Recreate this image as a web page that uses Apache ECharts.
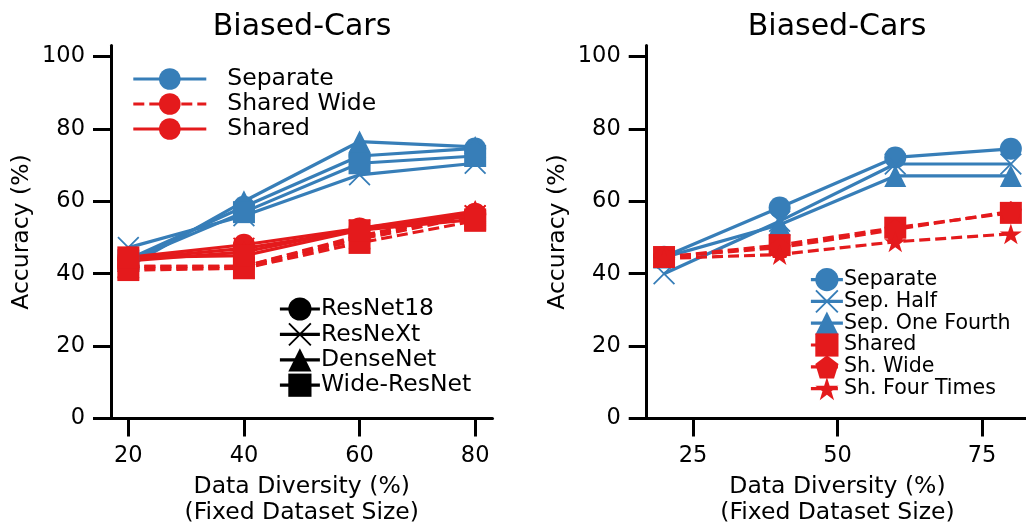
<!DOCTYPE html>
<html><head><meta charset="utf-8">
<script src="https://cdn.jsdelivr.net/npm/echarts@6/dist/echarts.min.js"></script>
<style>html,body{margin:0;padding:0;background:#fff}#c{width:1026px;height:523px}</style>
</head><body><div id="c"></div>
<script>
// ---------- data ----------
const xValues = [20, 40, 60, 80];
const leftXTicks = [20, 40, 60, 80];
const rightXTicks = [25, 50, 75];
const yTicks = [0, 20, 40, 60, 80, 100];

// Left panel: Separate (blue, solid)
const sepResNet18   = [44.0, 58.5, 72.5, 74.6];
const sepResNeXt    = [47.2, 56.0, 67.3, 70.5];
const sepDenseNet   = [42.0, 60.0, 76.5, 75.0];
const sepWideResNet = [43.5, 57.0, 70.5, 72.5];
// Left panel: Shared Wide (red, dashed)
const swResNet18    = [42.0, 42.0, 50.5, 56.5];
const swResNeXt     = [41.5, 41.5, 49.5, 56.0];
const swDenseNet    = [42.0, 42.0, 50.0, 57.0];
const swWideResNet  = [41.0, 41.5, 48.5, 54.6];
// Left panel: Shared (red, solid)
const shResNet18    = [44.5, 48.0, 52.5, 56.5];
const shResNeXt     = [44.0, 47.0, 52.0, 56.0];
const shDenseNet    = [43.5, 46.0, 52.5, 57.3];
const shWideResNet  = [44.5, 45.0, 52.0, 55.0];

// Right panel
const rSeparate     = [44.7, 58.3, 72.1, 74.5];
const rSepHalf      = [40.0, 54.5, 70.3, 70.3];
const rSepOneFourth = [44.5, 53.5, 67.0, 67.0];
const rShared       = [44.6, 47.9, 52.7, 56.8];
const rShWide       = [44.6, 47.2, 52.2, 57.2];
const rShFourTimes  = [44.2, 45.3, 48.8, 51.0];

const leftLegendA = ['Separate', 'Shared Wide', 'Shared'];
const leftLegendB = ['ResNet18', 'ResNeXt', 'DenseNet', 'Wide-ResNet'];
const rightLegend = ['Separate', 'Sep. Half', 'Sep. One Fourth', 'Shared', 'Sh. Wide', 'Sh. Four Times'];

// ---------- styling ----------
const BLUE = '#377eb8', RED = '#e41a1c', BLACK = '#000';
const FONT = 'DejaVu Sans';
const DASH = [11, 5];
const X_PATH = 'path://M5.66,0L50,44.34L94.34,0L100,5.66L55.66,50L100,94.34L94.34,100L50,55.66L5.66,100L0,94.34L44.34,50L0,5.66Z';
const PENT_PATH = 'path://M50,0L97.55,34.55L79.39,90.45L20.61,90.45L2.45,34.55Z';
const STAR_PATH = 'path://M50,0L61.23,34.55L97.55,34.55L68.17,55.9L79.39,90.45L50,69.1L20.61,90.45L31.83,55.9L2.45,34.55L38.77,34.55Z';
const archSymbols = ['circle', X_PATH, 'triangle', 'rect'];

function pts(vals) { return xValues.map((x, i) => [x, vals[i]]); }
function mk(name, vals, color, symbol, dashed, idx, size) {
  return {
    type: 'line', name: name, data: vals ? pts(vals) : [],
    xAxisIndex: idx, yAxisIndex: idx,
    symbol: symbol, symbolSize: size || 22, symbolKeepAspect: true,
    showSymbol: true, showAllSymbol: true,
    lineStyle: { color: color, width: 3.2, type: dashed ? DASH : 'solid' },
    itemStyle: { color: color },
    emphasis: { disabled: true },
    silent: true, animation: false, clip: false
  };
}

const series = [];
const sepData = [sepResNet18, sepResNeXt, sepDenseNet, sepWideResNet];
const swData = [swResNet18, swResNeXt, swDenseNet, swWideResNet];
const shData = [shResNet18, shResNeXt, shDenseNet, shWideResNet];
sepData.forEach((d, i) => series.push(mk('sep-' + leftLegendB[i], d, BLUE, archSymbols[i], false, 0)));
swData.forEach((d, i) => series.push(mk('sw-' + leftLegendB[i], d, RED, archSymbols[i], true, 0)));
shData.forEach((d, i) => series.push(mk('sh-' + leftLegendB[i], d, RED, archSymbols[i], false, 0)));
// legend-only entries (no data)
series.push(mk('Separate', null, BLUE, 'circle', false, 0));
series.push(mk('Shared Wide', null, RED, 'circle', true, 0));
series.push(mk('Shared', null, RED, 'circle', false, 0));
leftLegendB.forEach((n, i) => series.push(mk(n, null, BLACK, archSymbols[i], false, 0)));

// right panel
const rData = [rSeparate, rSepHalf, rSepOneFourth, rShared, rShWide, rShFourTimes];
const rSym = ['circle', X_PATH, 'triangle', 'rect', PENT_PATH, STAR_PATH];
const rCol = [BLUE, BLUE, BLUE, RED, RED, RED];
const rDash = [false, false, false, true, true, true];
rData.forEach((d, i) => series.push(mk('R:' + rightLegend[i], d, rCol[i], rSym[i], rDash[i], 1)));

function xAxis(idx, min, max, ticks) {
  return {
    type: 'value', gridIndex: idx, min: min, max: max,
    name: 'Data Diversity (%)\n(Fixed Dataset Size)', nameLocation: 'middle', nameGap: 55.5,
    nameTextStyle: { fontFamily: FONT, fontSize: 23.5, color: '#000', lineHeight: 26 },
    axisLine: { show: true, onZero: false, lineStyle: { color: '#000', width: 3 } },
    axisTick: { show: true, length: 18, customValues: ticks, lineStyle: { color: '#000', width: 3 } },
    axisLabel: { customValues: ticks, margin: 26, fontFamily: FONT, fontSize: 22.5, color: '#000' },
    splitLine: { show: false }
  };
}
function yAxis(idx) {
  return {
    type: 'value', gridIndex: idx, min: 0, max: 103,
    name: 'Accuracy (%)', nameLocation: 'middle', nameGap: 77,
    nameTextStyle: { fontFamily: FONT, fontSize: 23.5, color: '#000' },
    axisLine: { show: true, onZero: false, lineStyle: { color: '#000', width: 3 } },
    axisTick: { show: true, length: 18, customValues: yTicks, lineStyle: { color: '#000', width: 3 } },
    axisLabel: { customValues: yTicks, margin: 26, fontFamily: FONT, fontSize: 22.5, color: '#000' },
    splitLine: { show: false }
  };
}

const legendText = (size, pad) => ({ fontFamily: FONT, fontSize: size, color: '#000', padding: pad });
const legendCommon = { orient: 'vertical', padding: 0, selectedMode: false, lineStyle: { width: 3.2 } };

const option = {
  animation: false,
  backgroundColor: '#fff',
  grid: [
    { left: 111, top: 45.6, width: 381.5, height: 372.9, containLabel: false, outerBoundsMode: 'none' },
    { left: 646.7, top: 45.6, width: 381.5, height: 372.9, containLabel: false, outerBoundsMode: 'none' }
  ],
  xAxis: [xAxis(0, 17, 83, leftXTicks), xAxis(1, 17, 83, rightXTicks)],
  yAxis: [yAxis(0), yAxis(1)],
  legend: [
    Object.assign({ data: leftLegendA, left: 131.7, top: 67, itemWidth: 73, itemHeight: 27, itemGap: 1,
      textStyle: legendText(23.5, [0, 0, 0, 16]) }, legendCommon),
    Object.assign({ data: leftLegendB, left: 278.3, top: 297, itemWidth: 40, itemHeight: 29, itemGap: 1.4,
      textStyle: legendText(23.5, [0, 0, 0, -4]) }, legendCommon),
    Object.assign({ data: rightLegend.map(n => 'R:' + n), left: 809.3, top: 268, itemWidth: 32, itemHeight: 29, itemGap: -1.4,
      formatter: n => n.slice(2), textStyle: legendText(20.6, [0, 0, 0, -4]) }, legendCommon)
  ],
  graphic: [
    { type: 'text', x: 302, y: 27, silent: true,
      style: { text: 'Biased-Cars', fontFamily: FONT, fontSize: 30, fill: '#000', align: 'center', verticalAlign: 'middle' } },
    { type: 'text', x: 837, y: 27, silent: true,
      style: { text: 'Biased-Cars', fontFamily: FONT, fontSize: 30, fill: '#000', align: 'center', verticalAlign: 'middle' } }
  ],
  series: series
};

const chart = echarts.init(document.getElementById('c'), null, { renderer: 'canvas' });
chart.setOption(option);
</script>
</body></html>
